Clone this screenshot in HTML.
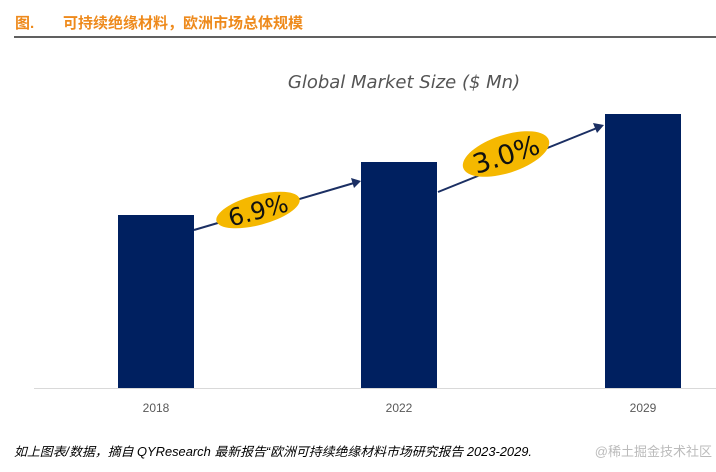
<!DOCTYPE html>
<html><head><meta charset="utf-8"><style>
body{margin:0;width:716px;height:467px;background:#fff;overflow:hidden;font-family:"Liberation Sans","Noto Sans CJK SC",sans-serif}
</style></head><body>
<svg width="716" height="467" xmlns="http://www.w3.org/2000/svg">
<text x="15" y="28" font-size="15" font-weight="bold" fill="#ee8a1c" font-family="Liberation Sans,Noto Sans CJK SC,sans-serif">图.</text>
<text x="63" y="28" font-size="15" font-weight="bold" fill="#ee8a1c" font-family="Liberation Sans,Noto Sans CJK SC,sans-serif">可持续绝缘材料，欧洲市场总体规模</text>
<line x1="14" y1="37" x2="716" y2="37" stroke="#000" stroke-width="1.3"/>
<text x="404" y="88" font-size="18" fill="#555" text-anchor="middle" font-family="DejaVu Sans,sans-serif" font-style="italic">Global Market Size ($ Mn)</text>
<line x1="34" y1="388.5" x2="716" y2="388.5" stroke="#d9d9d9" stroke-width="1"/>
<g id="bars"></g>
<g id="xlabels"></g>
<g>
<line x1="194" y1="230" x2="354" y2="183" stroke="#1b2f63" stroke-width="2"/>
<polygon points="361,181 351,178 354,188" fill="#1b2f63"/>
<ellipse cx="258" cy="210" rx="43" ry="15" transform="rotate(-15 258 210)" fill="#f5b800"/>
<text x="258" y="219" font-size="24" text-anchor="middle" transform="rotate(-15 258 210)" font-family="DejaVu Sans,sans-serif" fill="#111">6.9%</text>
</g>
<g>
<line x1="438" y1="192" x2="597" y2="128" stroke="#1b2f63" stroke-width="2"/>
<polygon points="604,125 593,123 597,133" fill="#1b2f63"/>
<ellipse cx="506" cy="154" rx="45" ry="19" transform="rotate(-18 506 154)" fill="#f5b800"/>
<text x="506" y="164" font-size="27" text-anchor="middle" transform="rotate(-18 506 154)" font-family="DejaVu Sans,sans-serif" fill="#111">3.0%</text>
</g>
<text x="14" y="456" font-size="12.5" font-style="italic" fill="#000" textLength="518" lengthAdjust="spacingAndGlyphs" font-family="Liberation Sans,Noto Sans CJK SC,sans-serif">如上图表/数据，摘自 QYResearch 最新报告“欧洲可持续绝缘材料市场研究报告 2023-2029.</text>
<text x="712" y="456" font-size="13" fill="#bbb" text-anchor="end" font-family="Liberation Sans,Noto Sans CJK SC,sans-serif">@稀土掘金技术社区</text>
</svg>
<script>
const categories=["2018","2022","2029"];
const values=[173,226,274];
const base=388, centers=[156,399,643], bw=76;
const ys=v=>base-v;
const bars=document.getElementById('bars'), xl=document.getElementById('xlabels');
const ns="http://www.w3.org/2000/svg";
categories.forEach((c,i)=>{
 const r=document.createElementNS(ns,'rect');
 r.setAttribute('x',centers[i]-bw/2);r.setAttribute('y',ys(values[i]));
 r.setAttribute('width',bw);r.setAttribute('height',base-ys(values[i]));
 r.setAttribute('fill','#002060');
 
 
 bars.appendChild(r);
 const t=document.createElementNS(ns,'text');
 t.setAttribute('x',centers[i]);t.setAttribute('y',412);
 t.setAttribute('font-size','12');t.setAttribute('fill','#595959');t.setAttribute('text-anchor','middle');
 t.textContent=c;
 
 
 xl.appendChild(t);
});
</script>
</body></html>
